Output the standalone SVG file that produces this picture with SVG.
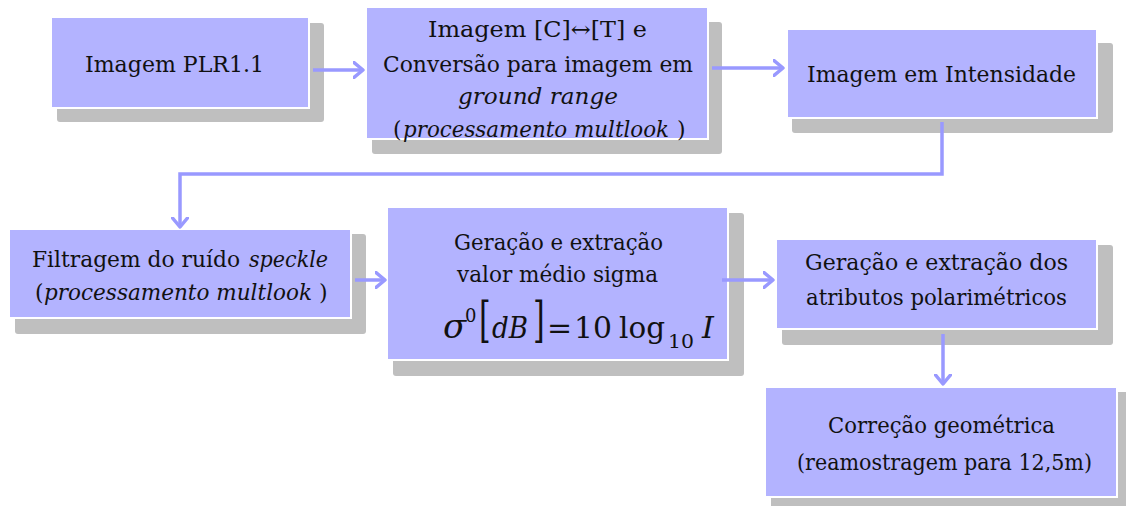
<svg xmlns="http://www.w3.org/2000/svg" width="1126" height="506" viewBox="0 0 1126 506">
<style>
.box{fill:#b3b3ff;stroke:#ffffff;stroke-width:2}
.sh{fill:#bfbfbf}
.t{font-family:'DejaVu Serif','Liberation Serif',serif;font-size:22px;fill:#111;text-anchor:middle}
.s{text-anchor:start}
.i{font-style:italic}
.m{font-family:'DejaVu Serif','Liberation Serif',serif;fill:#111}
.c{fill:none;stroke:#9999ff;stroke-width:3.5}
</style>
<defs>
<marker id="ah" markerUnits="userSpaceOnUse" viewBox="0 0 12 18" refX="10.5" refY="9" markerWidth="12" markerHeight="18" orient="auto">
<path d="M1.5,1.5 L10.5,9 L1.5,16.5" fill="none" stroke="#9999ff" stroke-width="3.5" stroke-linecap="round" stroke-linejoin="round"/>
</marker>
</defs>
<rect width="1126" height="506" fill="#ffffff"/>

<g id="n1">
<rect class="sh" x="57" y="23" width="267" height="99" rx="3"/>
<rect class="box" x="51" y="17" width="258" height="91"/>
<text class="t" x="174.5" y="72" textLength="179" lengthAdjust="spacingAndGlyphs">Imagem PLR1.1</text>
</g>

<g id="n2">
<rect class="sh" x="372" y="22" width="350" height="132" rx="3"/>
<rect class="box" x="366" y="7" width="342" height="132"/>
<text class="t" x="537.5" y="37" textLength="219" lengthAdjust="spacingAndGlyphs">Imagem [C]↔[T] e</text>
<text class="t" x="538" y="72" textLength="310" lengthAdjust="spacingAndGlyphs">Conversão para imagem em</text>
<text class="t i" x="538" y="104" textLength="160" lengthAdjust="spacingAndGlyphs">ground range</text>
<text class="t s" x="393" y="137">(</text>
<text class="t s i" x="403" y="137" textLength="266" lengthAdjust="spacingAndGlyphs">processamento multlook</text>
<text class="t s" x="677" y="137">)</text>
</g>

<g id="n3">
<rect class="sh" x="792" y="43" width="321" height="90" rx="3"/>
<rect class="box" x="787" y="29" width="310" height="89"/>
<text class="t" x="941.5" y="82" textLength="269" lengthAdjust="spacingAndGlyphs">Imagem em Intensidade</text>
</g>

<g id="n4">
<rect class="sh" x="15" y="234" width="351" height="100" rx="3"/>
<rect class="box" x="9" y="229" width="342" height="89"/>
<text class="t s" x="32" y="267" textLength="208" lengthAdjust="spacingAndGlyphs">Filtragem do ruído</text>
<text class="t s i" x="249" y="267" textLength="79" lengthAdjust="spacingAndGlyphs">speckle</text>
<text class="t s" x="35" y="300">(</text>
<text class="t s i" x="44" y="300" textLength="268" lengthAdjust="spacingAndGlyphs">processamento multlook</text>
<text class="t s" x="319" y="300">)</text>
</g>

<g id="n5">
<rect class="sh" x="393" y="213" width="351" height="163" rx="3"/>
<rect class="box" x="387" y="207" width="341" height="153"/>
<text class="t" x="558.5" y="250" textLength="209" lengthAdjust="spacingAndGlyphs">Geração e extração</text>
<text class="t" x="557.5" y="282" textLength="201" lengthAdjust="spacingAndGlyphs">valor médio sigma</text>
<text class="m i" x="443" y="338" font-size="34">σ</text>
<text class="m" x="465" y="322" font-size="18">0</text>
<text class="m" transform="translate(479,337) scale(1,1.6)" font-size="30">[</text>
<text class="m i" x="492" y="338" font-size="30" textLength="36" lengthAdjust="spacingAndGlyphs">dB</text>
<text class="m" transform="translate(533,337) scale(1,1.6)" font-size="30">]</text>
<text class="m" x="547" y="338" font-size="30">=</text>
<text class="m" x="574" y="338" font-size="30" textLength="38" lengthAdjust="spacingAndGlyphs">10</text>
<text class="m" x="619" y="338" font-size="30" textLength="46" lengthAdjust="spacingAndGlyphs">log</text>
<text class="m" x="668" y="348" font-size="18" textLength="26" lengthAdjust="spacingAndGlyphs">10</text>
<text class="m i" x="702" y="338" font-size="30">I</text>
</g>

<g id="n6">
<rect class="sh" x="782" y="245" width="331" height="100" rx="3"/>
<rect class="box" x="776" y="239" width="321" height="90"/>
<text class="t" x="936.5" y="270" textLength="263" lengthAdjust="spacingAndGlyphs">Geração  e extração dos</text>
<text class="t" x="936.5" y="305" textLength="261" lengthAdjust="spacingAndGlyphs">atributos polarimétricos</text>
</g>

<g id="n7">
<rect class="sh" x="771" y="392" width="362" height="121" rx="3"/>
<rect class="box" x="765" y="387" width="352" height="110"/>
<text class="t" x="941.5" y="433" textLength="227" lengthAdjust="spacingAndGlyphs">Correção geométrica</text>
<text class="t" x="944.5" y="470" textLength="295" lengthAdjust="spacingAndGlyphs">(reamostragem para 12,5m)</text>
</g>

<g id="connectors">
<line class="c" x1="313" y1="70" x2="363" y2="70" marker-end="url(#ah)"/>
<line class="c" x1="712" y1="68" x2="783" y2="68" marker-end="url(#ah)"/>
<polyline class="c" points="942,122 942,174 180,174 180,227" marker-end="url(#ah)"/>
<line class="c" x1="355" y1="280" x2="385" y2="280" marker-end="url(#ah)"/>
<line class="c" x1="722" y1="280" x2="773" y2="280" marker-end="url(#ah)"/>
<line class="c" x1="943" y1="334" x2="943" y2="384" marker-end="url(#ah)"/>
</g>
</svg>
